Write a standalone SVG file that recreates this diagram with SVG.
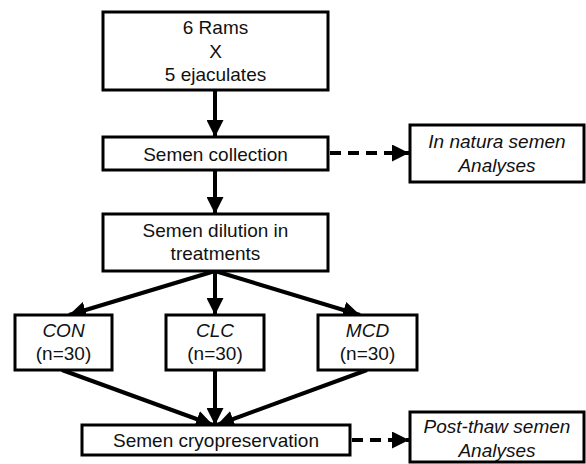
<svg xmlns="http://www.w3.org/2000/svg" width="586" height="464" viewBox="0 0 586 464">
<style>
.box{fill:#fff;stroke:#000;stroke-width:3}
text{font-family:"Liberation Sans",Arial,sans-serif;font-size:19px;fill:#111;text-anchor:middle}
.it{font-style:italic}
.ln{stroke:#000;stroke-width:4;fill:none}
.dash{stroke-dasharray:11 7}
</style>
<defs>
<marker id="ah" markerUnits="userSpaceOnUse" markerWidth="17" markerHeight="17" viewBox="0 0 17 17" refX="17" refY="8.5" orient="auto">
<path d="M0,0 L17,8.5 L0,17 z" fill="#000"/>
</marker>
</defs>
<rect width="586" height="464" fill="#fff"/>
<g id="connectors">
<line class="ln" x1="215" y1="90" x2="215" y2="137" marker-end="url(#ah)"/>
<line class="ln" x1="215" y1="170" x2="215" y2="214" marker-end="url(#ah)"/>
<line class="ln dash" x1="330" y1="153" x2="409" y2="153" marker-end="url(#ah)"/>
<line class="ln" x1="215" y1="271" x2="69" y2="315" marker-end="url(#ah)"/>
<line class="ln" x1="215" y1="271" x2="215" y2="315" marker-end="url(#ah)"/>
<line class="ln" x1="215" y1="271" x2="360" y2="315" marker-end="url(#ah)"/>
<line class="ln" x1="62" y1="370" x2="213" y2="425" marker-end="url(#ah)"/>
<line class="ln" x1="215" y1="370" x2="215" y2="425" marker-end="url(#ah)"/>
<line class="ln" x1="367" y1="370" x2="217" y2="425" marker-end="url(#ah)"/>
<line class="ln dash" x1="352" y1="440" x2="409" y2="440" marker-end="url(#ah)"/>
</g>
<g id="rams">
<rect class="box" x="103" y="12" width="225" height="78"/>
<text x="215.5" y="34">6 Rams</text>
<text x="215.5" y="58">X</text>
<text x="215.5" y="81">5 ejaculates</text>
</g>
<g id="collection">
<rect class="box" x="103" y="137" width="225" height="33"/>
<text x="215.5" y="161">Semen collection</text>
</g>
<g id="innatura">
<rect class="box" x="410" y="125" width="174" height="57"/>
<text class="it" x="497" y="148">In natura semen</text>
<text class="it" x="497" y="172">Analyses</text>
</g>
<g id="dilution">
<rect class="box" x="103" y="214" width="225" height="57"/>
<text x="215.5" y="237">Semen dilution in</text>
<text x="215.5" y="260">treatments</text>
</g>
<g id="con">
<rect class="box" x="15" y="315" width="97" height="55"/>
<text class="it" x="63.5" y="337">CON</text>
<text x="63.5" y="360">(n=30)</text>
</g>
<g id="clc">
<rect class="box" x="166" y="315" width="98" height="55"/>
<text class="it" x="215" y="337">CLC</text>
<text x="215" y="360">(n=30)</text>
</g>
<g id="mcd">
<rect class="box" x="318" y="315" width="99" height="55"/>
<text class="it" x="367.5" y="337">MCD</text>
<text x="367.5" y="360">(n=30)</text>
</g>
<g id="cryo">
<rect class="box" x="82" y="425" width="268" height="30"/>
<text x="216" y="447">Semen cryopreservation</text>
</g>
<g id="postthaw">
<rect class="box" x="410" y="412" width="174" height="50"/>
<text class="it" x="497" y="433">Post-thaw semen</text>
<text class="it" x="497" y="457">Analyses</text>
</g>
</svg>
